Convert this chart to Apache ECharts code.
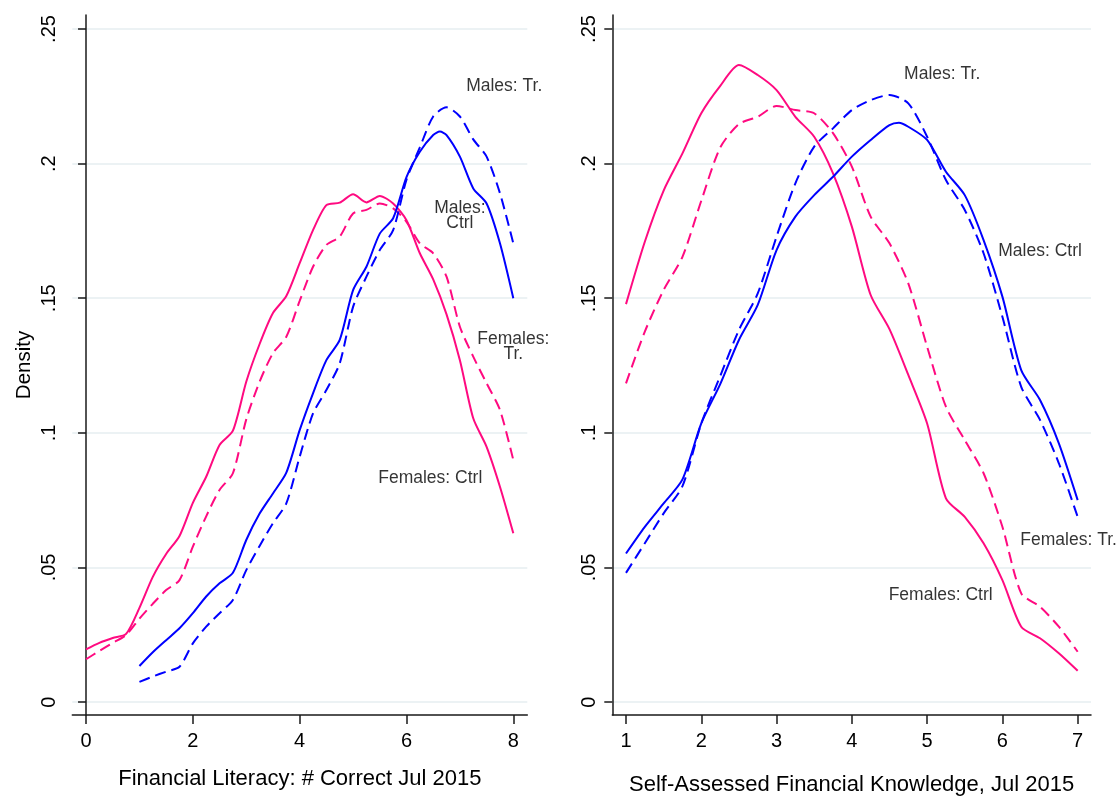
<!DOCTYPE html>
<html><head><meta charset="utf-8">
<script src="https://cdn.jsdelivr.net/npm/echarts@6/dist/echarts.min.js"></script>
<style>html,body{margin:0;padding:0;background:#fff}#c{width:1118px;height:796px}</style>
</head><body><div id="c"></div>
<script>
// ---------- data ----------
const yTickValues = [0, 0.05, 0.1, 0.15, 0.2, 0.25];
const yTickLabels = ['0', '.05', '.1', '.15', '.2', '.25'];
const leftXTicks = [0, 2, 4, 6, 8];
const rightXTicks = [1, 2, 3, 4, 5, 6, 7];

const leftTitle = 'Financial Literacy: # Correct Jul 2015';
const rightTitle = 'Self-Assessed Financial Knowledge, Jul 2015';
const yTitle = 'Density';

// Left panel: Financial literacy
const leftFemX = [0,0.25,0.5,0.75,1,1.25,1.5,1.75,2,2.25,2.5,2.75,3,3.25,3.5,3.75,4,4.25,4.5,4.75,5,5.25,5.5,5.75,6,6.25,6.5,6.75,7,7.25,7.5,7.75,8];
const leftFemCtrl = [0.0196,0.0220,0.0238,0.0253,0.035,0.0465,0.055,0.0617,0.074,0.0837,0.0955,0.1008,0.119,0.133,0.1445,0.1508,0.163,0.1753,0.1846,0.1855,0.1886,0.1856,0.188,0.1852,0.179,0.1667,0.157,0.144,0.127,0.1054,0.0948,0.080,0.0627];
const leftFemTr = [0.0159,0.019,0.022,0.0249,0.031,0.0365,0.0416,0.0453,0.0577,0.069,0.0788,0.085,0.105,0.119,0.1296,0.1357,0.149,0.1617,0.1698,0.1729,0.1815,0.1828,0.1852,0.1834,0.1784,0.1704,0.1667,0.158,0.1394,0.1283,0.1184,0.1085,0.0899];
const leftMaleCtrlX = [1,1.25,1.5,1.75,2,2.25,2.5,2.75,3,3.25,3.5,3.75,4,4.25,4.5,4.75,5,5.25,5.5,5.75,6,6.25,6.5,6.625,6.75,7,7.25,7.5,7.75,8];
const leftMaleCtrl = [0.0134,0.0185,0.023,0.0274,0.033,0.0392,0.0441,0.048,0.0602,0.070,0.0775,0.0852,0.101,0.1147,0.127,0.1345,0.153,0.1617,0.174,0.1797,0.195,0.2044,0.2106,0.2119,0.2106,0.2026,0.1908,0.1852,0.1704,0.150];
const leftMaleTrX = [1,1.25,1.5,1.75,2,2.25,2.5,2.75,3,3.25,3.5,3.75,4,4.25,4.5,4.75,5,5.25,5.5,5.75,6,6.25,6.5,6.75,7,7.25,7.5,7.75,8];
const leftMaleTr = [0.0075,0.0095,0.0113,0.0131,0.0218,0.028,0.033,0.0379,0.049,0.058,0.0664,0.0738,0.0911,0.1072,0.1159,0.1258,0.1468,0.158,0.1679,0.1753,0.194,0.206,0.2175,0.2209,0.2175,0.209,0.2026,0.189,0.1704];

// Right panel: Self-assessed knowledge
const rightX = [1,1.25,1.5,1.75,2,2.25,2.5,2.75,3,3.25,3.5,3.75,4,4.25,4.5,4.75,5,5.25,5.5,5.75,6,6.25,6.5,6.75,7];
const rightFemCtrl = [0.1478,0.171,0.190,0.2038,0.2187,0.2288,0.2366,0.2329,0.2273,0.2174,0.21,0.1964,0.1766,0.1512,0.1385,0.1215,0.1035,0.0757,0.0688,0.059,0.0453,0.028,0.0237,0.0181,0.0116];
const rightFemTr = [0.1184,0.1376,0.1531,0.1654,0.1862,0.2059,0.2147,0.2174,0.2214,0.2199,0.2187,0.2113,0.1989,0.1803,0.1704,0.1555,0.132,0.1097,0.0973,0.085,0.0651,0.0404,0.0354,0.028,0.0187];
const rightMaleCtrlX = [1,1.25,1.5,1.75,2,2.25,2.5,2.75,3,3.25,3.5,3.75,4,4.25,4.5,4.625,4.75,5,5.25,5.5,5.75,6,6.25,6.5,6.75,7];
const rightMaleCtrl = [0.0552,0.0651,0.0738,0.0827,0.1035,0.118,0.1345,0.1475,0.1679,0.1803,0.1883,0.1951,0.2026,0.2088,0.2143,0.2152,0.2137,0.2088,0.197,0.1883,0.1716,0.1506,0.1233,0.1122,0.0961,0.075];
const rightMaleTr = [0.048,0.059,0.0701,0.0802,0.1035,0.121,0.1382,0.1518,0.1729,0.1927,0.2063,0.2131,0.2199,0.2236,0.2255,0.2224,0.210,0.1939,0.1828,0.1667,0.1431,0.1171,0.1048,0.0887,0.0688];

// Curve annotations (text, x, y in data units)
const leftLabelText = ['Males: Tr.', 'Males:\nCtrl', 'Females:\nTr.', 'Females: Ctrl'];
const leftLabelX = [7.83, 7.0, 8.0, 6.445];
const leftLabelY = [0.2288, 0.1805, 0.1319, 0.0832];
const rightLabelText = ['Males: Tr.', 'Males: Ctrl', 'Females: Tr.', 'Females: Ctrl'];
const rightLabelX = [5.2, 6.5, 6.88, 5.18];
const rightLabelY = [0.2333, 0.1675, 0.06, 0.0397];

// ---------- chart ----------
const PINK = '#ff0a80', BLUE = '#0000ff', AXIS = '#1a1a1a';
const FONT = '"Liberation Sans", Arial, sans-serif';
const zip = (xs, ys) => xs.map((x, i) => [x, ys[i]]);

function line(name, xs, ys, color, dashed, idx) {
  return {
    name, type: 'line', xAxisIndex: idx, yAxisIndex: idx,
    data: zip(xs, ys), showSymbol: false, symbol: 'none', smooth: 0.25,
    lineStyle: { color, width: 2, type: dashed ? [11, 6] : 'solid' },
    silent: true, animation: false, z: 3
  };
}
function labels(texts, xs, ys, idx) {
  return {
    type: 'scatter', xAxisIndex: idx, yAxisIndex: idx, symbolSize: 0, silent: true, animation: false, z: 5,
    data: texts.map((t, i) => ({ name: t, value: [xs[i], ys[i]] })),
    label: { show: true, position: 'inside', formatter: p => p.name, color: '#000', fontSize: 17.5,
             fontFamily: FONT, lineHeight: 15, align: 'center', verticalAlign: 'middle' }
  };
}
function yAxis(idx, withName) {
  return {
    type: 'value', gridIndex: idx, min: -0.0048, max: 0.2552,
    name: withName ? yTitle : '', nameLocation: 'middle', nameGap: 37,
    nameTextStyle: { fontSize: 20.5, color: '#000', fontFamily: FONT },
    axisLine: { show: true, lineStyle: { color: AXIS, width: 1.5 } },
    axisTick: { show: true, length: 8, customValues: yTickValues, lineStyle: { color: AXIS, width: 1.5 } },
    axisLabel: { customValues: yTickValues, rotate: 90, margin: 13, fontSize: 20, color: '#000', fontFamily: FONT,
                 formatter: v => yTickLabels[yTickValues.findIndex(t => Math.abs(t - v) < 1e-9)] },
    splitLine: { show: true, lineStyle: { color: '#e6eef1', width: 1.6 } }
  };
}
function xAxis(idx, min, max, ticks, title, gap) {
  return {
    type: 'value', gridIndex: idx, min, max,
    name: title, nameLocation: 'middle', nameGap: gap,
    nameTextStyle: { fontSize: 22, color: '#000', fontFamily: FONT },
    axisLine: { show: true, onZero: false, lineStyle: { color: AXIS, width: 1.5 } },
    axisTick: { show: true, length: 9, customValues: ticks, lineStyle: { color: AXIS, width: 1.5 } },
    axisLabel: { customValues: ticks, margin: 16, fontSize: 20, color: '#000', fontFamily: FONT },
    splitLine: { show: false }
  };
}

const chart = echarts.init(document.getElementById('c'), null, { renderer: 'canvas' });
chart.setOption({
  backgroundColor: '#fff',
  animation: false,
  grid: [
    { left: 72.3, top: 15, width: 455, height: 700, containLabel: false, outerBoundsMode: 'none' },
    { left: 612.3, top: 15, width: 478.7, height: 700, containLabel: false, outerBoundsMode: 'none' }
  ],
  xAxis: [
    xAxis(0, -0.257, 8.262, leftXTicks, leftTitle, 53),
    xAxis(1, 0.818, 7.177, rightXTicks, rightTitle, 59)
  ],
  yAxis: [yAxis(0, true), yAxis(1, false)],
  series: [
    line('Females: Ctrl', leftFemX, leftFemCtrl, PINK, false, 0),
    line('Females: Tr.', leftFemX, leftFemTr, PINK, true, 0),
    line('Males: Ctrl', leftMaleCtrlX, leftMaleCtrl, BLUE, false, 0),
    line('Males: Tr.', leftMaleTrX, leftMaleTr, BLUE, true, 0),
    line('Females: Ctrl', rightX, rightFemCtrl, PINK, false, 1),
    line('Females: Tr.', rightX, rightFemTr, PINK, true, 1),
    line('Males: Ctrl', rightMaleCtrlX, rightMaleCtrl, BLUE, false, 1),
    line('Males: Tr.', rightX, rightMaleTr, BLUE, true, 1),
    labels(leftLabelText, leftLabelX, leftLabelY, 0),
    labels(rightLabelText, rightLabelX, rightLabelY, 1)
  ]
});
</script></body></html>
